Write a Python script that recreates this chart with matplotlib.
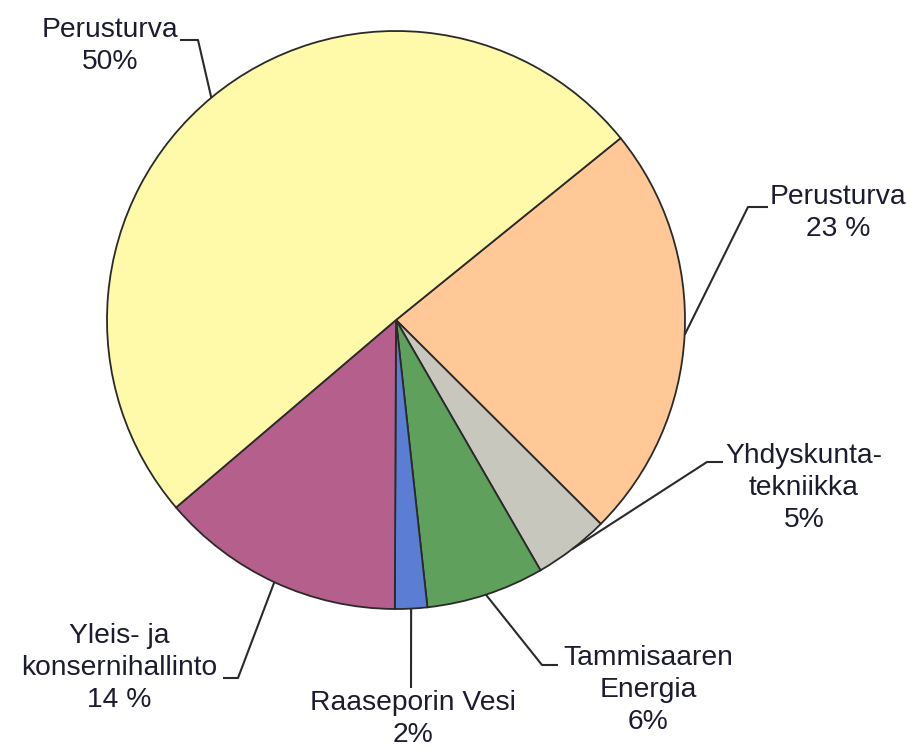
import numpy as np
import matplotlib
matplotlib.use("Agg")
import matplotlib.pyplot as plt

# Data (order: clockwise starting from upper-right boundary)
labels = ["Perusturva\n23 %", "Yhdyskunta-\ntekniikka\n5%", "Tammisaaren\nEnergia\n6%",
          "Raaseporin Vesi\n2%", "Yleis- ja\nkonsernihallinto\n14 %", "Perusturva\n50%"]
values = [23.3, 4.2, 6.6, 1.8, 13.7, 50.4]
colors = ["#FFC896", "#C8C7BE", "#5EA05C", "#5B7DD3", "#B5608C", "#FFFAAA"]

W, H = 920, 749
fig = plt.figure(figsize=(W / 100, H / 100), dpi=100)
ax = fig.add_axes([0, 0, 1, 1])

cx, cy, R = 396, H - 320, 289
wedges, _ = ax.pie(values, colors=colors, startangle=39, counterclock=False,
                   center=(cx, cy), radius=R, frame=True,
                   wedgeprops=dict(edgecolor="#2a2a2a", linewidth=1.3))
ax.set_xlim(0, W)
ax.set_ylim(0, H)
ax.set_aspect("equal")
ax.axis("off")

# layout: (elbow, line end, text center) in pixel coords (top-left origin)
layout = [
    ((748, 207), (768, 207), (838, 213)),
    ((707, 462), (723, 462), (804, 488)),
    ((542, 665), (558, 665), (648, 690)),
    ((411, 688), (411, 688), (413, 719)),
    ((238, 678), (223, 678), (119, 668)),
    ((198, 40), (180, 40), (110, 46)),
]

for w, lab, (elbow, end, tc) in zip(wedges, labels, layout):
    ang = np.deg2rad((w.theta1 + w.theta2) / 2)
    x0, y0 = cx + R * np.cos(ang), cy + R * np.sin(ang)
    xs = [x0, elbow[0], end[0]]
    ys = [y0, H - elbow[1], H - end[1]]
    ax.plot(xs, ys, color="#2a2a2a", lw=1.5, solid_capstyle="butt")
    ax.text(tc[0], H - tc[1], lab, ha="center", va="center", fontsize=20.3,
            family="Liberation Sans", color="#1c1c30", linespacing=1.3,
            multialignment="center")

fig.savefig("out.png", dpi=100, facecolor="white")
